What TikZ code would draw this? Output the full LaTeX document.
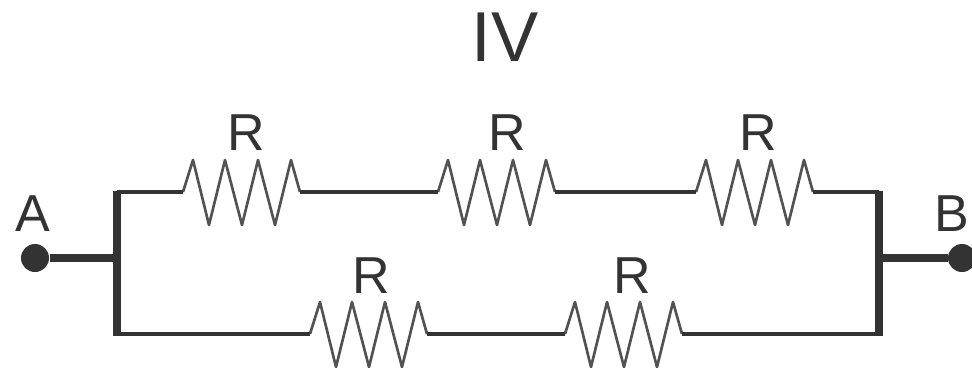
\documentclass[tikz,border=0pt]{standalone}
\usepackage{fontspec}
\setmainfont{Liberation Sans}
\definecolor{wirecol}{HTML}{333333}
\tikzset{every picture/.style={line width=0.75pt}}
\tikzset{
	thinwire/.style={draw=wirecol,line width=2.4pt},
	thickwire/.style={draw=wirecol,line width=6pt},
	zigzag/.style={draw=wirecol!85,line width=2pt,line join=round},
	lbl/.style={anchor=base,inner sep=0.75pt,text=wirecol,font=\fontsize{39}{39}\selectfont},
	terminal/.style={circle,fill=wirecol,inner sep=0pt,minimum size=21pt}
}
\newcommand{\zigzagpath}[1]{(#1) -- ++(10,-32) -- ++(16,65) -- ++(16,-65) -- ++(17,65) -- ++(16,-65) -- ++(17,65) -- ++(16,-65) -- ++(9,32)}

\begin{document}
\begin{tikzpicture}[x=0.75pt,y=0.75pt,yscale=-1,xscale=1]
	\useasboundingbox (0,0) rectangle (972,368);

	% Text Node
	\node[lbl,font=\fontsize{53}{53}\selectfont] (title) at (505,61) {IV};
	\node[lbl] (lblA) at (33,231) {A};
	\node[lbl] (lblB) at (952,231) {B};
	\node[lbl] (lblRa) at (246,150) {R};
	\node[lbl] (lblRb) at (507,150) {R};
	\node[lbl] (lblRc) at (758,150) {R};
	\node[lbl] (lblRd) at (371,293) {R};
	\node[lbl] (lblRe) at (632,293) {R};

	% Terminals
	\node[terminal] (termA) at (35,258) {};
	\node[terminal] (termB) at (962,258) {};

	% Corners and resistor ends
	\coordinate (leftT) at (117,192);
	\coordinate (leftM) at (117,258);
	\coordinate (leftB) at (117,334);
	\coordinate (rightT) at (879,192);
	\coordinate (rightM) at (879,258);
	\coordinate (rightB) at (879,334);
	\coordinate (Rain) at (183,192);
	\coordinate (Raout) at (300,192);
	\coordinate (Rbin) at (438,192);
	\coordinate (Rbout) at (555,192);
	\coordinate (Rcin) at (696,192);
	\coordinate (Rcout) at (813,192);
	\coordinate (Rdin) at (310,334);
	\coordinate (Rdout) at (427,334);
	\coordinate (Rein) at (565,334);
	\coordinate (Reout) at (682,334);

	% Resistors
	\foreach \res in {Rain,Rbin,Rcin,Rdin,Rein}
		\draw[zigzag] \zigzagpath{\res};

	% Straight Lines
	\draw[thinwire] (leftT) -- (Rain);
	\draw[thinwire] (Raout) -- (Rbin);
	\draw[thinwire] (Rbout) -- (Rcin);
	\draw[thinwire] (Rcout) -- (rightT);
	\draw[thinwire] (leftB) -- (Rdin);
	\draw[thinwire] (Rdout) -- (Rein);
	\draw[thinwire] (Reout) -- (rightB);

	% Bars and leads
	\draw[thickwire] (leftT) ++(0,-1) -- (leftB) -- ++(0,2);
	\draw[thickwire] (rightT) ++(0,-1) -- (rightB) -- ++(0,2);
	\draw[thickwire] (termA) -- (leftM);
	\draw[thickwire] (rightM) -- (termB);
\end{tikzpicture}
\end{document}
